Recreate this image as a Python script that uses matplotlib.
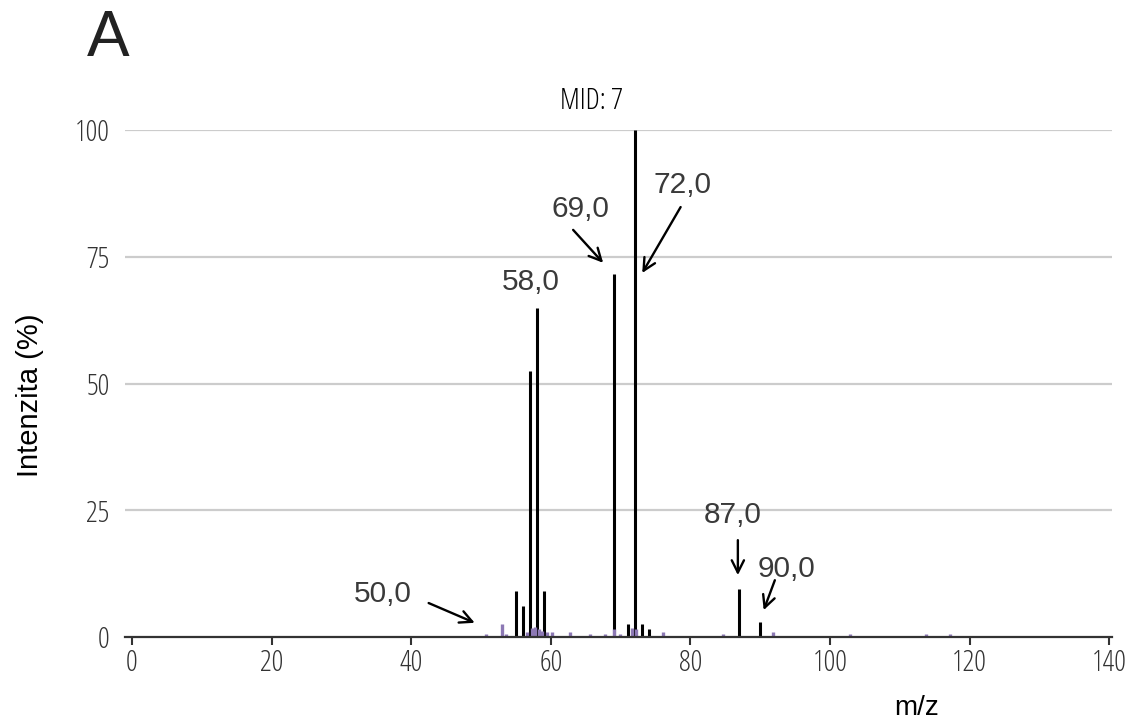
import matplotlib
matplotlib.use("Agg")
import matplotlib.pyplot as plt
from matplotlib import font_manager as fm

# Spectrum peaks (m/z, relative intensity %)
mz_main = [55, 56, 57, 58, 59, 69, 71, 72, 73, 74, 87, 90]
int_main = [9.1, 6.2, 52.5, 64.8, 9.1, 71.5, 2.5, 100, 2.5, 1.5, 9.5, 2.9]

mz_minor = [50.7, 53.0, 53.6, 56.6, 57.3, 57.8, 58.3, 58.8, 59.5, 60.2, 62.7,
            65.6, 67.8, 69.1, 69.9, 71.6, 72.2, 76.1, 84.6, 91.8, 102.8,
            113.8, 117.2]
int_minor = [0.6, 2.6, 0.6, 1.0, 1.8, 2.0, 1.5, 1.2, 1.0, 1.0, 1.0,
             0.5, 0.6, 1.6, 0.5, 1.8, 1.5, 1.0, 0.5, 1.0, 0.5,
             0.5, 0.5]

x_ticks = [0, 20, 40, 60, 80, 100, 120, 140]
y_ticks = [0, 25, 50, 75, 100]

# Annotated peaks: label, text position (x, baseline y), arrow start, arrow tip
labels = ["50,0", "58,0", "69,0", "72,0", "87,0", "90,0"]
label_pos = [(35.9, 6.9), (57.2, 68.4), (64.3, 82.8), (78.9, 87.6), (86.1, 22.5), (93.8, 11.8)]
arrow_from = [(42.5, 6.7), None, (63.2, 80.3), (78.6, 84.8), (86.8, 19.1), (92.1, 11.2)]
arrow_to = [(49.1, 2.8), None, (67.5, 73.8), (73.1, 71.8), (86.8, 12.2), (90.5, 5.3)]


def condensed_font(size):
    """Light condensed face for the axis numbers, falling back to DejaVu."""
    for f in fm.fontManager.ttflist:
        if f.name == "Open Sans" and f.stretch == "condensed" and f.style == "normal":
            return fm.FontProperties(fname=f.fname, size=size)
    return fm.FontProperties(family="DejaVu Sans", stretch="condensed", size=size)


sans = ["Liberation Sans", "DejaVu Sans"]
txt = "#333333"

fig = plt.figure(figsize=(11.38, 7.22), dpi=100)
W, H = 1138, 722
left_px, right_px, bot_px, top_px = 125, 1112, 637, 130
ax = fig.add_axes([left_px / W, (H - bot_px) / H,
                   (right_px - left_px) / W, (bot_px - top_px) / H])
ax.set_xlim(-1.0, 140.4)
ax.set_ylim(0, 100)

for y in y_ticks[1:]:
    ax.axhline(y, color="#cccccc", lw=1.6, zorder=0)

ax.vlines(mz_main, 0, int_main, color="black", lw=2.2, zorder=2)
ax.vlines(mz_minor, 0, int_minor, color="#8c78b4", lw=2.4, zorder=3)

for s in ["top", "right", "left"]:
    ax.spines[s].set_visible(False)
ax.spines["bottom"].set_color("#333333")
ax.spines["bottom"].set_linewidth(1.6)
ax.spines["bottom"].set_zorder(4)

ax.set_xticks(x_ticks)
ax.set_yticks(y_ticks)
ax.tick_params(axis="x", length=6, width=1.5, color="#333333", pad=2,
               labelcolor=txt)
ax.tick_params(axis="y", length=0, pad=11, labelcolor=txt)
tick_fp = condensed_font(21)
for lab in ax.get_xticklabels() + ax.get_yticklabels():
    lab.set_fontproperties(tick_fp)

for lab, (tx, ty), a0, a1 in zip(labels, label_pos, arrow_from, arrow_to):
    ax.text(tx, ty, lab, ha="center", va="baseline", fontsize=21.5,
            color="#3a3a3a", family=sans, zorder=5)
    if a0 is not None:
        ax.annotate("", xy=a1, xytext=a0,
                    arrowprops=dict(arrowstyle="->", color="black", lw=1.7,
                                    mutation_scale=22, shrinkA=0, shrinkB=0),
                    zorder=5, annotation_clip=False)

mid_fp = condensed_font(21)
mid_fp.set_weight("normal")
fig.text(591 / W, 1 - 101 / H, "MID: 7", ha="center", va="center",
         fontproperties=mid_fp, color="#000000")
fig.text(87 / W, 1 - 56 / H, "A", ha="left", va="baseline",
         fontsize=46, color="#222222", family=sans)
fig.text(30 / W, 1 - 395 / H, "Intenzita (%)", rotation=90, ha="center",
         va="center", fontsize=21, color="black", family=sans)
fig.text(917 / W, 1 - 715 / H, "m/z", ha="center", va="baseline",
         fontsize=20, color="black", family=sans)

fig.savefig("out.png", dpi=100)
